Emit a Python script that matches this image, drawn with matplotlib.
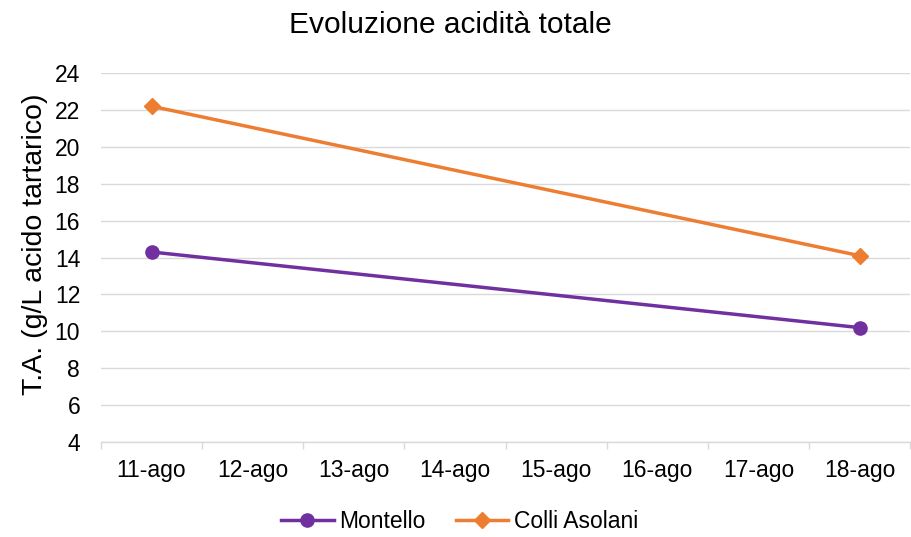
import matplotlib
matplotlib.use("Agg")
import matplotlib.pyplot as plt
from matplotlib.lines import Line2D

plt.rcParams['font.family'] = ['Liberation Sans', 'DejaVu Sans']

categories = ['11-ago', '12-ago', '13-ago', '14-ago', '15-ago', '16-ago', '17-ago', '18-ago']
sample_dates = ['11-ago', '18-ago']
montello = [14.3, 10.2]
colli_asolani = [22.2, 14.1]
y_ticks = [4, 6, 8, 10, 12, 14, 16, 18, 20, 22, 24]

fig = plt.figure(figsize=(9.12, 5.37), dpi=100)
ax = fig.add_axes([0.1107, 0.1769, 0.8873, 0.6871])

xpos = [categories.index(d) for d in sample_dates]
purple = '#7030A0'
orange = '#ED7D31'
ax.plot(xpos, montello, color=purple, lw=2.5, marker='o', ms=9.5, label='Montello', solid_capstyle='round')
ax.plot(xpos, colli_asolani, color=orange, lw=2.5, marker='D', ms=8.5, label='Colli Asolani', solid_capstyle='round')

ax.set_xlim(-0.5, len(categories) - 0.5)
ax.set_ylim(4, 24)
ax.set_yticks(y_ticks)
ax.set_yticklabels([str(v) for v in y_ticks], fontsize=16.5)
ax.set_xticks(range(len(categories)))
ax.set_xticklabels(categories, fontsize=16.5)
ax.set_xticks([i - 0.5 for i in range(len(categories) + 1)], minor=True)
ax.tick_params(axis='x', which='major', length=0, pad=12)
ax.tick_params(axis='x', which='minor', length=5, color='#d9d9d9', width=1)
ax.tick_params(axis='y', length=0, pad=15)
ax.grid(axis='y', color='#d9d9d9', lw=1)
ax.set_axisbelow(True)
for s in ['top', 'right', 'left']:
    ax.spines[s].set_visible(False)
ax.spines['bottom'].set_color('#d9d9d9')
ax.spines['bottom'].set_linewidth(1)
ax.spines['bottom'].set_zorder(0.5)

ax.set_ylabel('T.A. (g/L acido tartarico)', fontsize=20.5)
ax.yaxis.set_label_coords(-0.066, 0.537)
fig.text(0.494, 0.953, 'Evoluzione acidità totale', fontsize=21.5, ha='center', va='center')

handles = [Line2D([], [], color=purple, lw=2.5, marker='o', ms=9.5),
           Line2D([], [], color=orange, lw=2.5, marker='D', ms=8.5)]
fig.legend(handles, ['Montello', 'Colli Asolani'], loc='center', bbox_to_anchor=(0.504, 0.028),
           ncol=2, frameon=False, fontsize=16.5, handlelength=2.3, columnspacing=1.3,
           handletextpad=0.25, borderpad=0, borderaxespad=0)

fig.savefig('out.png', dpi=100)
